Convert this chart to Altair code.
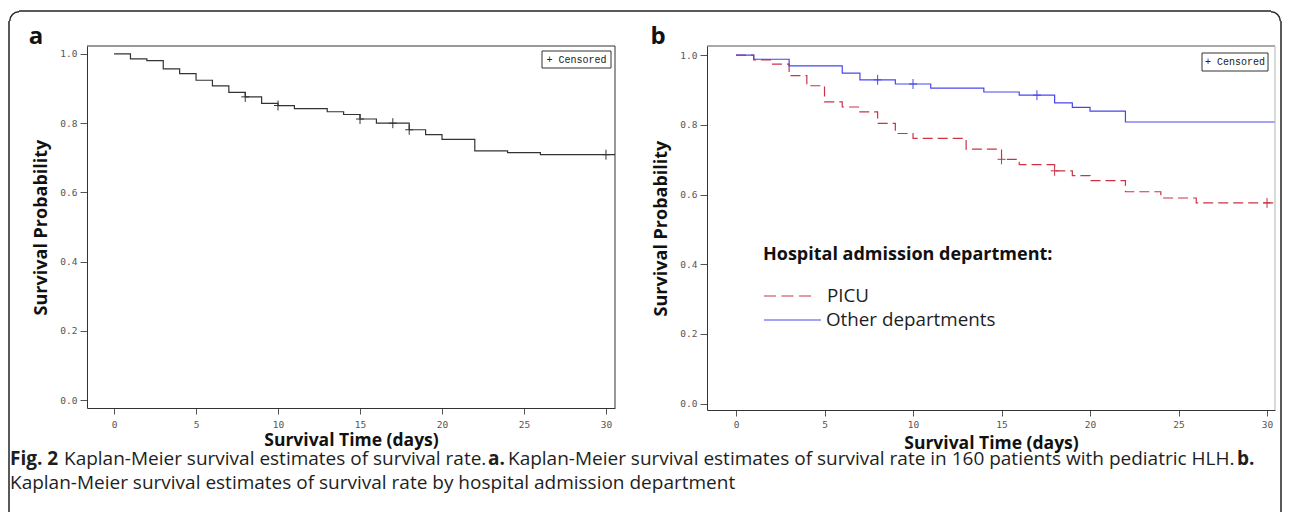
import math
import altair as alt
import pandas as pd

# ---------------- data ----------------
# Panel a: all 160 patients
a_time = [0, 1, 2, 3, 4, 5, 6, 7, 8, 9, 10, 11, 13, 14, 15, 16, 18, 19, 20, 22, 24, 26, 30.55]
a_surv = [1.0, 0.986, 0.981, 0.957, 0.943, 0.924, 0.908, 0.889, 0.876, 0.857, 0.851, 0.842,
          0.833, 0.825, 0.812, 0.800, 0.781, 0.767, 0.753, 0.720, 0.715, 0.709, 0.709]
a_cens_time = [8, 10, 15, 17, 18, 30]
a_cens_surv = [0.876, 0.851, 0.812, 0.800, 0.781, 0.709]

# Panel b: by hospital admission department
groups = ["PICU", "Other departments"]
picu_time = [0, 1, 2, 3, 4, 5, 6, 7, 8, 9, 10, 13, 15, 16, 18, 19, 20, 22, 24, 26, 30.45]
picu_surv = [1.0, 0.986, 0.974, 0.941, 0.912, 0.866, 0.851, 0.837, 0.804, 0.775, 0.761, 0.730,
             0.701, 0.686, 0.668, 0.654, 0.640, 0.608, 0.590, 0.576, 0.576]
picu_cens_time = [15, 18, 30]
picu_cens_surv = [0.701, 0.668, 0.576]

other_time = [0, 1, 3, 6, 7, 9, 11, 14, 16, 18, 19, 20, 22, 30.45]
other_surv = [1.0, 0.988, 0.969, 0.948, 0.929, 0.917, 0.905, 0.894, 0.885, 0.863, 0.850, 0.839,
              0.808, 0.808]
other_cens_time = [8, 10, 17]
other_cens_surv = [0.929, 0.917, 0.885]

x_ticks = [0, 5, 10, 15, 20, 25, 30]
y_ticks = [0.0, 0.2, 0.4, 0.6, 0.8, 1.0]

caption_line1 = [
    ("Fig. 2", "bold"),
    ("Kaplan-Meier survival estimates of survival rate.", "normal"),
    ("a.", "bold"),
    ("Kaplan-Meier survival estimates of survival rate in 160 patients with pediatric HLH.", "normal"),
    ("b.", "bold"),
]
caption_line1_x = [-77, -23, 401, 421, 1150]
caption_line2 = "Kaplan-Meier survival estimates of survival rate by hospital admission department"

# ---------------- styles ----------------
RED = "#cc3347"
BLUE = "#4646ee"
DARK = "#333333"
PLUS = "M0,-1L0,1M-0.8,0L0.8,0"
TXT = "#1e1e1e"
FONT = "Open Sans"
CAP = 19.0

one = pd.DataFrame({"k": [0]})


def label(text, x, y, size, weight="normal", font=FONT, align="left", color=TXT):
    return alt.Chart(one).mark_text(
        text=text, align=align, baseline="middle", font=font, fontSize=size,
        fontWeight=weight, color=color
    ).encode(x=alt.value(x), y=alt.value(y))


def hrule(x1, x2, y, color, width=1.0, dash=None):
    kw = dict(color=color, strokeWidth=width)
    if dash:
        kw["strokeDash"] = dash
    return alt.Chart(one).mark_rule(**kw).encode(x=alt.value(x1), x2=alt.value(x2), y=alt.value(y))


def vrule(x, y1, y2, color, width=1.0):
    return alt.Chart(one).mark_rule(color=color, strokeWidth=width).encode(
        x=alt.value(x), y=alt.value(y1), y2=alt.value(y2))


def box(x1, x2, y1, y2):
    return alt.Chart(one).mark_rect(fill="white", stroke="#333", strokeWidth=1).encode(
        x=alt.value(x1), x2=alt.value(x2), y=alt.value(y1), y2=alt.value(y2))


def corner(cx, cy, t1, t2):
    return alt.Chart(one).mark_arc(color="#222").encode(
        x=alt.value(cx), y=alt.value(cy), theta=alt.value(t1), theta2=alt.value(t2),
        radius=alt.value(10), radius2=alt.value(8.5))


def xenc(dom, title_y, label_pad):
    return alt.X("t:Q", scale=alt.Scale(domain=dom, nice=False, zero=False),
                 axis=alt.Axis(values=x_ticks, title="Survival Time (days)", titleY=title_y,
                               titleBaseline="middle", titleFontSize=17.5, tickSize=6,
                               labelPadding=label_pad, labelFlush=False, grid=False))


def yenc(dom, h):
    return alt.Y("s:Q", scale=alt.Scale(domain=dom, nice=False, zero=False),
                 axis=alt.Axis(values=y_ticks, format=".1f", title="Survival Probability",
                               titleX=-46, titleY=h / 2, titleAngle=270, titleBaseline="middle",
                               titleAlign="center", tickSize=7, labelPadding=3,
                               labelFlush=False, grid=False))


# ---------------- panel a ----------------
WA, HA = 528, 362
a_df = pd.DataFrame({"t": a_time, "s": a_surv})
a_cdf = pd.DataFrame({"t": a_cens_time, "s": a_cens_surv})
xa = xenc([-1.65, 30.55], 32, 5)
ya = yenc([-0.023, 1.023], HA)

a_line = alt.Chart(a_df).mark_line(interpolate="step-after", color=DARK, strokeWidth=1.2).encode(x=xa, y=ya)
a_cens = alt.Chart(a_cdf).mark_point(shape=PLUS, filled=False, size=100, color=DARK,
                                      strokeWidth=1, opacity=1).encode(x="t:Q", y="s:Q")

a_layers = [
    a_line, a_cens,
    # top and right sides of the plot frame
    hrule(0, WA, 0, "#333"),
    vrule(WA, 0, HA, "#333"),
    box(455, 524, 5, 22),
    label("+ Censored", 489.5, 13.5, 10, font="Liberation Mono", align="center", color="#222"),
    label("a", -51, -9, 24, weight="bold", align="center", color="#111"),
    # outer rounded frame of the figure
    vrule(-78, -25, 466, "#222", 1.5),
    hrule(-68, 1184, -35, "#222", 1.5),
    vrule(1194, -25, 466, "#222", 1.5),
    corner(-68, -25, 3 * math.pi / 2, 2 * math.pi),
    corner(1184, -25, 0, math.pi / 2),
]
for (txt, w), x in zip(caption_line1, caption_line1_x):
    a_layers.append(label(txt, x, 413, CAP, weight=w))
a_layers.append(label(caption_line2, -77, 437, CAP))

panel_a = alt.layer(*a_layers).properties(width=WA, height=HA)

# ---------------- panel b ----------------
WB, HB = 568, 364
b_df = pd.DataFrame({
    "t": picu_time + other_time,
    "s": picu_surv + other_surv,
    "g": [groups[0]] * len(picu_time) + [groups[1]] * len(other_time),
})
b_cdf = pd.DataFrame({
    "t": picu_cens_time + other_cens_time,
    "s": picu_cens_surv + other_cens_surv,
    "g": [groups[0]] * len(picu_cens_time) + [groups[1]] * len(other_cens_time),
})
xb = xenc([-1.64, 30.45], 33, 3)
yb = yenc([-0.018, 1.026], HB)
col = alt.Color("g:N", scale=alt.Scale(domain=groups, range=[RED, BLUE]), legend=None)
dash = alt.StrokeDash("g:N", scale=alt.Scale(domain=groups, range=[[10, 5], [1, 0]]), legend=None)

b_line = alt.Chart(b_df).mark_line(interpolate="step-after", strokeWidth=1.2).encode(
    x=xb, y=yb, color=col, strokeDash=dash)
b_cens = alt.Chart(b_cdf).mark_point(shape=PLUS, filled=False, size=100, strokeWidth=1,
                                      opacity=1).encode(x="t:Q", y="s:Q", color=col)

panel_b = alt.layer(
    b_line, b_cens,
    hrule(0, WB, 0, "#555"),
    vrule(WB, 0, HB, "#b4b4b4"),
    box(495, 561, 7, 25),
    label("+ Censored", 528, 16, 10, font="Liberation Mono", align="center", color="#222"),
    label("b", -49, -9, 24, weight="bold", align="center", color="#111"),
    label("Hospital admission department:", 56, 209, 18, weight="bold", color="#111"),
    hrule(57, 104, 250, RED, 1.2, [12, 5.5]),
    label(groups[0], 120, 250, 18.8),
    hrule(57, 114, 274, BLUE, 1.2),
    label(groups[1], 119, 274, 18.8),
).properties(width=WB, height=HB)

chart = alt.hconcat(
    panel_a, panel_b, spacing=92, bounds="flush", background="white",
    padding={"left": 0, "top": 2, "right": 0, "bottom": 0},
).configure_view(
    stroke="transparent", strokeWidth=0
).configure_axis(
    grid=False, labelFont="DejaVu Sans Mono", labelFontSize=9.5, labelColor="#555",
    tickColor="#555", domainColor="#333", titleFont=FONT, titleFontWeight="bold",
    titleFontSize=18, titleColor="#111"
)

chart.save("out.html", embed_options={"renderer": "svg", "actions": False})
